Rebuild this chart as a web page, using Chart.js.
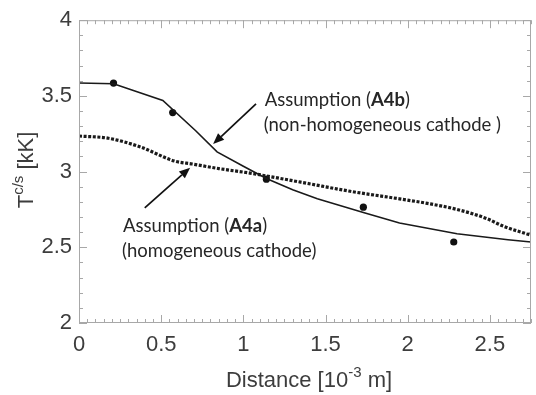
<!DOCTYPE html>
<html lang="en">
<head>
    <meta charset="UTF-8">
    <title>Cathode surface temperature</title>
    <script src="https://cdn.jsdelivr.net/npm/chart.js"></script>
    <style>
        * { margin: 0; padding: 0; box-sizing: border-box; }
        body { background: #fff; width: 536px; height: 395px; overflow: hidden; }
        #chart { display: block; }
    </style>
</head>
<body>
    <canvas id="chart" width="536" height="395"></canvas>

    <script>
        // Assumption (A4b) - non-homogeneous cathode (solid line)
        const a4bX = [0, 0.21, 0.51, 0.71, 0.84, 1.0, 1.14, 1.30, 1.45, 1.73, 1.95, 2.30, 2.61, 2.75];
        const a4bY = [3.585, 3.58, 3.47, 3.27, 3.13, 3.035, 2.955, 2.88, 2.82, 2.73, 2.66, 2.59, 2.55, 2.535];

        // Assumption (A4a) - homogeneous cathode (dotted line)
        const a4aX = [0, 0.18, 0.38, 0.58, 0.69, 0.85, 1.04, 1.35, 1.65, 1.95, 2.12, 2.30, 2.48, 2.58, 2.75];
        const a4aY = [3.235, 3.22, 3.16, 3.07, 3.05, 3.02, 2.99, 2.93, 2.87, 2.82, 2.79, 2.75, 2.69, 2.64, 2.58];

        // measured points
        const measX = [0.21, 0.57, 1.14, 1.73, 2.28];
        const measY = [3.585, 3.39, 2.95, 2.765, 2.535];

        const xTickStep = 0.5, xMinorStep = 0.05;
        const yTickStep = 0.5, yMinorStep = 0.1;

        const toPoints = (xs, ys) => xs.map((x, i) => ({ x: x, y: ys[i] }));

        const axisColor = '#a8a8a8';
        const labelColor = '#3d3d3d';
        const textColor = '#262626';

        // annotations in data units
        const notes = [
            { arrowFrom: [1.077, 3.448], arrowTo: [0.816, 3.182], at: [1.13, 3.435],
              line1: ['Assumption (', 'A4b', ')'], line2: '(non-homogeneous cathode )' },
            { arrowFrom: [0.40, 2.76], arrowTo: [0.676, 3.026], at: [0.268, 2.604],
              line1: ['Assumption (', 'A4a', ')'], line2: '(homogeneous cathode)' }
        ];

        // inward tick marks on all four sides + frame
        const frameTicks = {
            id: 'frameTicks',
            afterDatasetsDraw(chart) {
                const ctx = chart.ctx, a = chart.chartArea;
                const xs = chart.scales.x, ys = chart.scales.y;
                ctx.save();
                ctx.strokeStyle = axisColor;
                ctx.lineWidth = 1;
                ctx.strokeRect(a.left + 0.5, a.top + 0.5, a.right - a.left - 1, a.bottom - a.top - 1);
                ctx.beginPath();
                for (let i = 0; xs.min + i * xMinorStep <= xs.max + 1e-9; i++) {
                    const v = xs.min + i * xMinorStep;
                    const major = Math.abs(v / xTickStep - Math.round(v / xTickStep)) < 1e-6;
                    const len = major ? 8 : 4;
                    const px = Math.round(xs.getPixelForValue(v)) + 0.5;
                    ctx.moveTo(px, a.bottom); ctx.lineTo(px, a.bottom - len);
                    ctx.moveTo(px, a.top); ctx.lineTo(px, a.top + len);
                }
                for (let i = 0; ys.min + i * yMinorStep <= ys.max + 1e-9; i++) {
                    const v = ys.min + i * yMinorStep;
                    const major = Math.abs(v / yTickStep - Math.round(v / yTickStep)) < 1e-6;
                    const len = major ? 8 : 4;
                    const py = Math.round(ys.getPixelForValue(v)) + 0.5;
                    ctx.moveTo(a.left, py); ctx.lineTo(a.left + len, py);
                    ctx.moveTo(a.right, py); ctx.lineTo(a.right - len, py);
                }
                ctx.stroke();
                ctx.restore();
            }
        };

        function drawRich(ctx, parts, x, y, align) {
            let w = 0;
            parts.forEach(p => { ctx.font = p.font; p.w = ctx.measureText(p.text).width; w += p.w; });
            let cx = align === 'center' ? x - w / 2 : x;
            parts.forEach(p => {
                ctx.font = p.font;
                ctx.fillText(p.text, cx, y + (p.dy || 0));
                cx += p.w;
            });
        }

        const titlesAndNotes = {
            id: 'titlesAndNotes',
            afterDraw(chart) {
                const ctx = chart.ctx, a = chart.chartArea;
                const xs = chart.scales.x, ys = chart.scales.y;
                ctx.save();
                ctx.textBaseline = 'alphabetic';
                ctx.textAlign = 'left';

                // x axis title
                ctx.fillStyle = labelColor;
                const big = '22px "Liberation Sans", Arial, sans-serif';
                const small = '15px "Liberation Sans", Arial, sans-serif';
                drawRich(ctx, [
                    { text: 'Distance [10', font: big },
                    { text: '-3', font: small, dy: -10 },
                    { text: ' m]', font: big }
                ], (a.left + a.right) / 2 + 4, 387, 'center');

                // y axis title, rotated
                ctx.save();
                ctx.translate(33, 170);
                ctx.rotate(-Math.PI / 2);
                drawRich(ctx, [
                    { text: 'T', font: big },
                    { text: 'c/s', font: small, dy: -10 },
                    { text: ' [kK]', font: big }
                ], 0, 0, 'center');
                ctx.restore();

                // annotations
                ctx.fillStyle = textColor;
                ctx.strokeStyle = '#111';
                const reg = '18.5px Lato, "Open Sans", sans-serif';
                const bold = 'bold 18.5px Lato, "Open Sans", sans-serif';
                notes.forEach(n => {
                    const x0 = xs.getPixelForValue(n.arrowFrom[0]), y0 = ys.getPixelForValue(n.arrowFrom[1]);
                    const x1 = xs.getPixelForValue(n.arrowTo[0]), y1 = ys.getPixelForValue(n.arrowTo[1]);
                    const ang = Math.atan2(y1 - y0, x1 - x0);
                    const head = 11, half = 4.5;
                    const bx = x1 - head * Math.cos(ang), by = y1 - head * Math.sin(ang);
                    ctx.lineWidth = 1.7;
                    ctx.beginPath();
                    ctx.moveTo(x0, y0); ctx.lineTo(bx, by);
                    ctx.stroke();
                    ctx.fillStyle = '#111';
                    ctx.beginPath();
                    ctx.moveTo(x1, y1);
                    ctx.lineTo(bx + half * Math.sin(ang), by - half * Math.cos(ang));
                    ctx.lineTo(bx - half * Math.sin(ang), by + half * Math.cos(ang));
                    ctx.closePath();
                    ctx.fill();

                    ctx.fillStyle = textColor;
                    const tx = xs.getPixelForValue(n.at[0]), ty = ys.getPixelForValue(n.at[1]);
                    drawRich(ctx, [
                        { text: n.line1[0], font: reg },
                        { text: n.line1[1], font: bold },
                        { text: n.line1[2], font: reg }
                    ], tx, ty, 'left');
                    ctx.font = reg;
                    ctx.fillText(n.line2, tx - 1, ty + 25.5);
                });
                ctx.restore();
            }
        };

        const tickFont = { family: '"Liberation Sans", Arial, sans-serif', size: 22 };

        new Chart(document.getElementById('chart'), {
            type: 'scatter',
            data: {
                datasets: [
                    {
                        label: 'Assumption (A4b)',
                        data: toPoints(a4bX, a4bY),
                        showLine: true,
                        borderColor: '#1a1a1a',
                        borderWidth: 1.6,
                        pointRadius: 0,
                        tension: 0
                    },
                    {
                        label: 'Assumption (A4a)',
                        data: toPoints(a4aX, a4aY),
                        showLine: true,
                        borderColor: '#1a1a1a',
                        borderWidth: 3.2,
                        borderDash: [3, 1.6],
                        borderCapStyle: 'butt',
                        pointRadius: 0,
                        cubicInterpolationMode: 'monotone'
                    },
                    {
                        label: 'Measured',
                        data: toPoints(measX, measY),
                        showLine: false,
                        pointRadius: 3.6,
                        pointBackgroundColor: '#111',
                        pointBorderWidth: 0
                    }
                ]
            },
            options: {
                responsive: false,
                devicePixelRatio: 1,
                animation: false,
                layout: { padding: { top: 15, right: 5, left: 0, bottom: 0 } },
                plugins: {
                    legend: { display: false },
                    tooltip: { enabled: false }
                },
                scales: {
                    x: {
                        type: 'linear',
                        min: 0,
                        max: 2.75,
                        border: { display: false },
                        grid: { display: false, drawTicks: false },
                        ticks: {
                            stepSize: xTickStep,
                            includeBounds: false,
                            padding: 9,
                            color: labelColor,
                            maxRotation: 0,
                            font: tickFont,
                            callback: v => String(v)
                        },
                        afterFit(s) { s.height = 72; }
                    },
                    y: {
                        type: 'linear',
                        min: 2,
                        max: 4,
                        border: { display: false },
                        grid: { display: false, drawTicks: false },
                        ticks: {
                            stepSize: yTickStep,
                            padding: 7,
                            color: labelColor,
                            font: tickFont,
                            callback: v => String(v)
                        },
                        afterFit(s) { s.width = 79; }
                    }
                }
            },
            plugins: [frameTicks, titlesAndNotes]
        });
    </script>
</body>
</html>
